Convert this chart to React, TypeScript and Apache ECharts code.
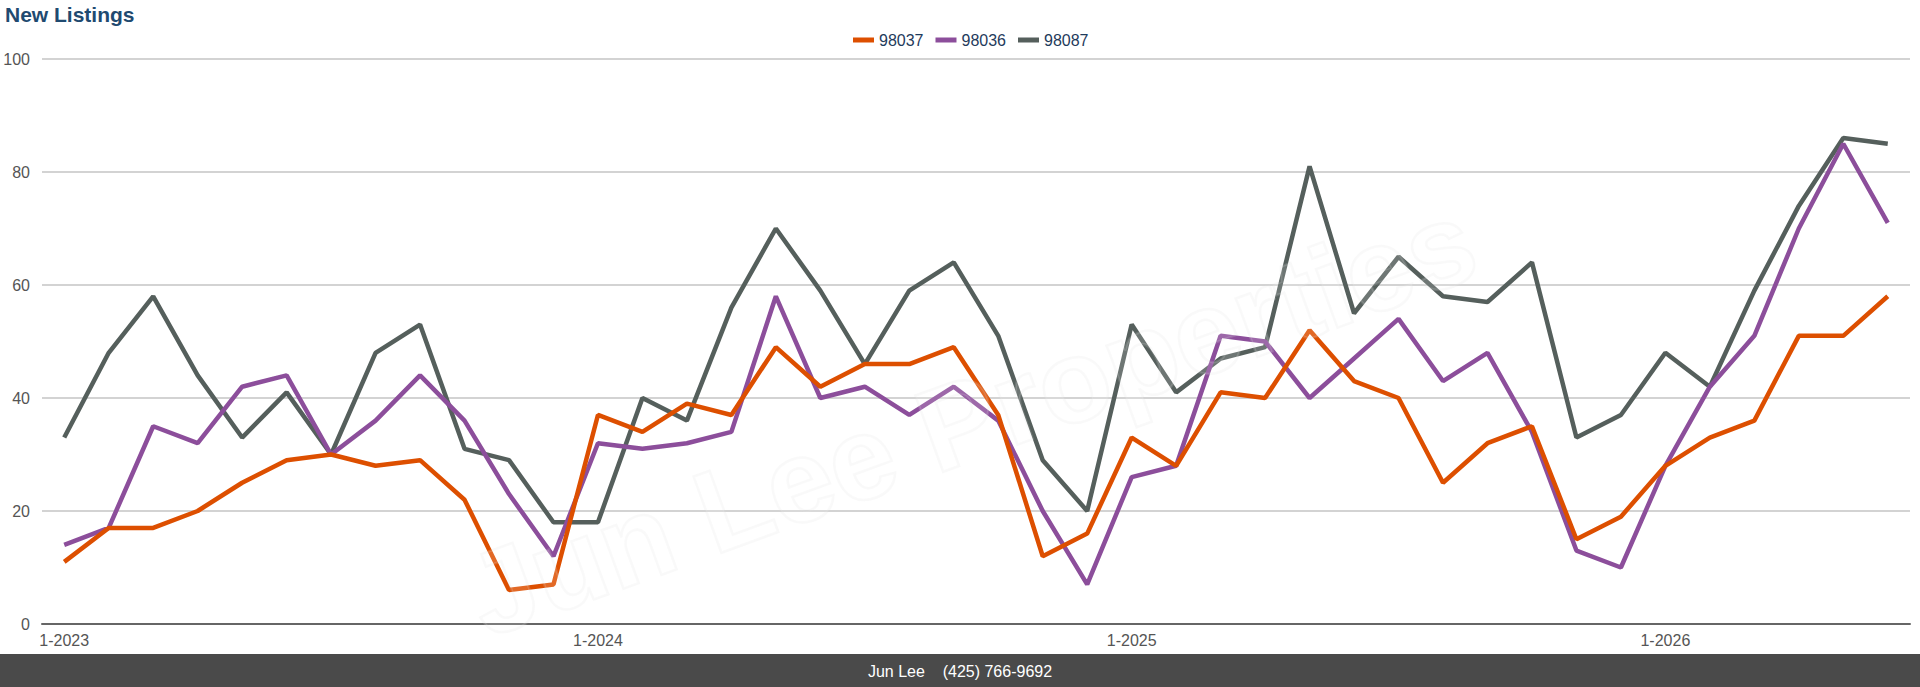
import React, { useEffect, useRef } from "react";
import * as echarts from "echarts";

const months: string[] = [];
for (let y = 2023; y <= 2026; y++) {
  for (let m = 1; m <= 12; m++) {
    if (y === 2026 && m > 6) break;
    months.push(`${m}-${y}`);
  }
}

const series98037 = [11, 17, 17, 20, 25, 29, 30, 28, 29, 22, 6, 7, 37, 34, 39, 37, 49, 42, 46, 46, 49, 37, 12, 16, 33, 28, 41, 40, 52, 43, 40, 25, 32, 35, 15, 19, 28, 33, 36, 51, 51, 58];
const series98036 = [14, 17, 35, 32, 42, 44, 30, 36, 44, 36, 23, 12, 32, 31, 32, 34, 58, 40, 42, 37, 42, 36, 20, 7, 26, 28, 51, 50, 40, 47, 54, 43, 48, 34, 13, 10, 28, 42, 51, 70, 85, 71];
const series98087 = [33, 48, 58, 44, 33, 41, 30, 48, 53, 31, 29, 18, 18, 40, 36, 56, 70, 59, 46, 59, 64, 51, 29, 20, 53, 41, 47, 49, 81, 55, 65, 58, 57, 64, 33, 37, 48, 42, 59, 74, 86, 85];

const seriesNames = ["98037", "98036", "98087"];
const seriesColors = ["#dd4f00", "#8c4e9b", "#555f5c"];
const yTicks = [0, 20, 40, 60, 80, 100];

const FONT = "'Liberation Sans', Arial, Helvetica, sans-serif";

export default function App() {
  const ref = useRef<HTMLDivElement>(null);
  useEffect(() => {
    if (!ref.current) return;
    const chart = echarts.init(ref.current, undefined, { renderer: "svg" });
    const data = [series98037, series98036, series98087];
    chart.setOption({
      animation: false,
      backgroundColor: "#ffffff",
      textStyle: { fontFamily: FONT },
      title: {
        text: "New Listings",
        left: 5,
        top: 4,
        padding: 0,
        textStyle: { color: "#1f4a70", fontSize: 21, fontWeight: "bold", fontFamily: FONT },
      },
      legend: {
        top: 32,
        left: 853,
        icon: "rect",
        itemWidth: 21,
        itemHeight: 5,
        itemGap: 12,
        padding: 0,
        textStyle: { color: "#1f3b5c", fontSize: 16, fontFamily: FONT },
        data: seriesNames,
      },
      grid: { left: 42, right: 10, top: 59, bottom: 63, containLabel: false },
      xAxis: {
        type: "category",
        data: months,
        boundaryGap: true,
        axisLine: { lineStyle: { color: "#666666", width: 2 } },
        axisTick: { alignWithLabel: true, interval: 11, length: 6, lineStyle: { color: "#666666", width: 2 } },
        axisLabel: { interval: 11, fontSize: 16, color: "#555555", margin: 8, fontFamily: FONT },
        splitLine: { show: false },
      },
      yAxis: {
        type: "value",
        min: yTicks[0],
        max: yTicks[yTicks.length - 1],
        interval: 20,
        axisLine: { show: false },
        axisTick: { show: false },
        axisLabel: { fontSize: 16, color: "#555555", margin: 12, fontFamily: FONT },
        splitLine: { lineStyle: { color: "#c4c4c4", width: 1.5 } },
      },
      graphic: [
        {
          type: "text",
          x: 971,
          y: 418,
          rotation: 0.35,
          z: 100,
          silent: true,
          style: {
            text: "Jun Lee Properties",
            fontSize: 118,
            fontWeight: "bold",
            fontFamily: FONT,
            fill: "rgba(255,255,255,0.15)",
            stroke: "rgba(220,220,220,0.18)",
            lineWidth: 2.5,
            align: "center",
            verticalAlign: "middle",
          },
        },
        {
          type: "rect",
          shape: { x: 0, y: 654, width: 1920, height: 33 },
          style: { fill: "#4a4a4a" },
          silent: true,
        },
        {
          type: "text",
          x: 960,
          y: 671,
          silent: true,
          style: {
            text: "Jun Lee    (425) 766-9692",
            fontSize: 16,
            fontFamily: FONT,
            fill: "#ffffff",
            align: "center",
            verticalAlign: "middle",
          },
        },
      ],
      series: seriesNames.map((name, i) => ({
        name,
        type: "line",
        data: data[i],
        showSymbol: false,
        symbol: "none",
        lineStyle: { color: seriesColors[i], width: 4.5 },
        itemStyle: { color: seriesColors[i] },
        z: 3 + (2 - i),
      })),
    });
    return () => chart.dispose();
  }, []);
  return (
    <div
      ref={ref}
      style={{ position: "fixed", left: 0, top: 0, width: 1920, height: 687 }}
    />
  );
}
